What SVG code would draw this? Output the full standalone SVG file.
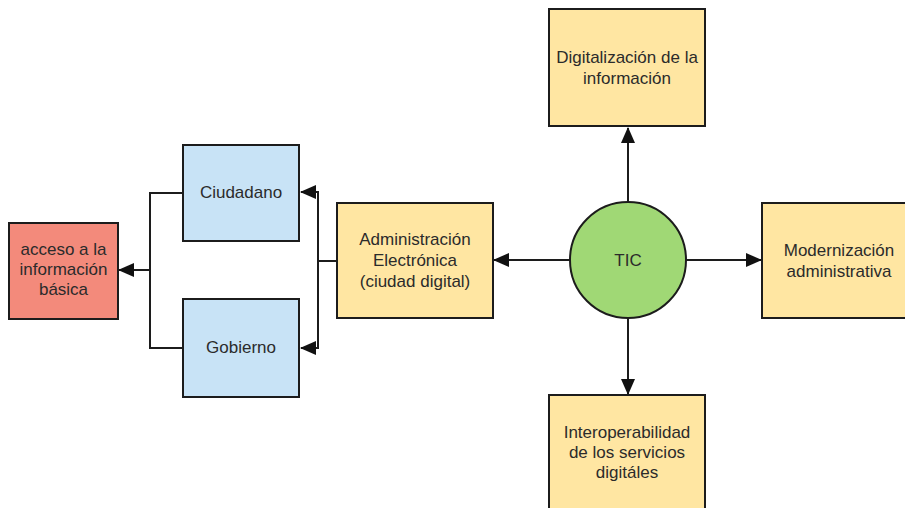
<svg xmlns="http://www.w3.org/2000/svg" width="905" height="508" viewBox="0 0 905 508">
<style>
.box{stroke:#1c1c1c;stroke-width:2}
.y{fill:#ffe6a2}
.b{fill:#c8e3f6}
.r{fill:#f38a7b}
.g{fill:#a0d875}
.t{font-family:"Liberation Sans",Arial,sans-serif;font-size:17px;fill:#2b2b2b;text-anchor:middle}
.c{fill:none;stroke:#1c1c1c;stroke-width:2}
</style>
<defs>
<marker id="ah" markerUnits="userSpaceOnUse" markerWidth="16" markerHeight="14" refX="15" refY="7" orient="auto">
<path d="M0,0 L16,7 L0,14 Z" fill="#111"/>
</marker>
</defs>
<rect width="905" height="508" fill="#fff"/>
<g id="connectors">
<path class="c" d="M628 202 V128" marker-end="url(#ah)"/>
<path class="c" d="M628 318 V394" marker-end="url(#ah)"/>
<path class="c" d="M686 260 H761" marker-end="url(#ah)"/>
<path class="c" d="M570 260 H494" marker-end="url(#ah)"/>
<path class="c" d="M337 261 H318 V192 H301" marker-end="url(#ah)"/>
<path class="c" d="M318 261 V348 H301" marker-end="url(#ah)"/>
<path class="c" d="M183 193 H150 V270 H119" marker-end="url(#ah)"/>
<path class="c" d="M183 348 H150 V270"/>
</g>
<g id="digitalizacion">
<rect class="box y" x="549" y="9" width="156" height="117"/>
<text class="t" x="627" y="63">Digitalización de la</text>
<text class="t" x="627" y="84">información</text>
</g>
<g id="tic">
<circle class="box g" cx="628" cy="260" r="58"/>
<text class="t" x="628" y="266">TIC</text>
</g>
<g id="modernizacion">
<rect class="box y" x="762" y="203" width="156" height="115"/>
<text class="t" x="839" y="256">Modernización</text>
<text class="t" x="839" y="277">administrativa</text>
</g>
<g id="interoperabilidad">
<rect class="box y" x="549" y="395" width="156" height="117"/>
<text class="t" x="627" y="438">Interoperabilidad</text>
<text class="t" x="627" y="458">de los servicios</text>
<text class="t" x="627" y="478">digitáles</text>
</g>
<g id="administracion">
<rect class="box y" x="337" y="203" width="156" height="115"/>
<text class="t" x="415" y="245">Administración</text>
<text class="t" x="415" y="266">Electrónica</text>
<text class="t" x="415" y="287">(ciudad digital)</text>
</g>
<g id="ciudadano">
<rect class="box b" x="183" y="145" width="116" height="96"/>
<text class="t" x="241" y="198">Ciudadano</text>
</g>
<g id="gobierno">
<rect class="box b" x="183" y="299" width="116" height="98"/>
<text class="t" x="241" y="353">Gobierno</text>
</g>
<g id="acceso">
<rect class="box r" x="9" y="223" width="109" height="96"/>
<text class="t" x="63.500" y="255">acceso a la</text>
<text class="t" x="63.500" y="275">información</text>
<text class="t" x="63.500" y="295">básica</text>
</g>
</svg>
